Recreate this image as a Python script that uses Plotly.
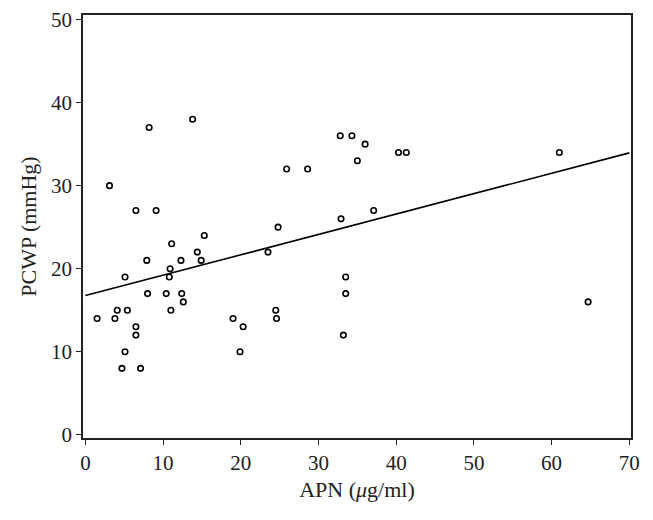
import numpy as np
import plotly.graph_objects as go

# APN (ug/ml) and PCWP (mmHg)
apn = [8.2, 13.8, 3.1, 6.5, 9.1, 15.3, 11.1, 14.4, 23.5, 7.9,
       12.3, 14.9, 10.9, 5.1, 10.8, 8.0, 10.4, 12.4, 12.6, 4.1,
       5.4, 11.0, 1.5, 3.8, 19.0, 6.5, 20.3, 6.5, 5.1, 19.9,
       4.7, 7.1, 32.8, 34.3, 36.0, 40.3, 41.3, 35.0, 25.9, 28.6,
       37.1, 32.9, 24.8, 33.5, 33.5, 24.5, 24.6, 33.2, 61.0, 64.7]
pcwp = [37, 38, 30, 27, 27, 24, 23, 22, 22, 21,
        21, 21, 20, 19, 19, 17, 17, 17, 16, 15,
        15, 15, 14, 14, 14, 13, 13, 12, 10, 10,
        8, 8, 36, 36, 35, 34, 34, 33, 32, 32,
        27, 26, 25, 19, 17, 15, 14, 12, 34, 16]

x_ticks = [0, 10, 20, 30, 40, 50, 60, 70]
y_ticks = [0, 10, 20, 30, 40, 50]

slope, intercept = np.polyfit(apn, pcwp, 1)
fit_x = [0, 70]
fit_y = [intercept + slope * v for v in fit_x]

FONT = "Liberation Serif"
INK = "#222"

fig = go.Figure()
fig.add_trace(go.Scatter(
    x=fit_x, y=fit_y, mode="lines",
    line=dict(color="black", width=1.6),
    showlegend=False, hoverinfo="skip"))
fig.add_trace(go.Scatter(
    x=apn, y=pcwp, mode="markers",
    marker=dict(symbol="circle-open", size=5.5, color="black",
                line=dict(width=1.6, color="black")),
    showlegend=False))

axis_common = dict(
    showgrid=False, zeroline=False, automargin=False,
    showline=True, linecolor=INK, linewidth=1.5, mirror=True,
    ticks="outside", ticklen=5, tickwidth=1.3, tickcolor=INK,
    tickfont=dict(family=FONT, size=21, color=INK),
    ticklabeloverflow="allow",
)

fig.update_layout(
    width=653, height=520,
    margin=dict(l=83, r=22, t=15, b=82),
    paper_bgcolor="white", plot_bgcolor="white",
    xaxis=dict(range=[-0.31, 70.22], tickvals=x_ticks,
               title=dict(text="APN (<i>μ</i>g/ml)",
                          font=dict(family=FONT, size=22, color=INK),
                          standoff=8),
               **axis_common),
    yaxis=dict(range=[-0.39, 50.55], tickvals=y_ticks,
               title=dict(text="PCWP (mmHg)",
                          font=dict(family=FONT, size=22, color=INK),
                          standoff=8),
               **axis_common),
)

fig.write_html(
    "out.html",
    config={"displayModeBar": False},
    post_script="document.body.style.margin='0';document.body.style.overflow='hidden';",
)
